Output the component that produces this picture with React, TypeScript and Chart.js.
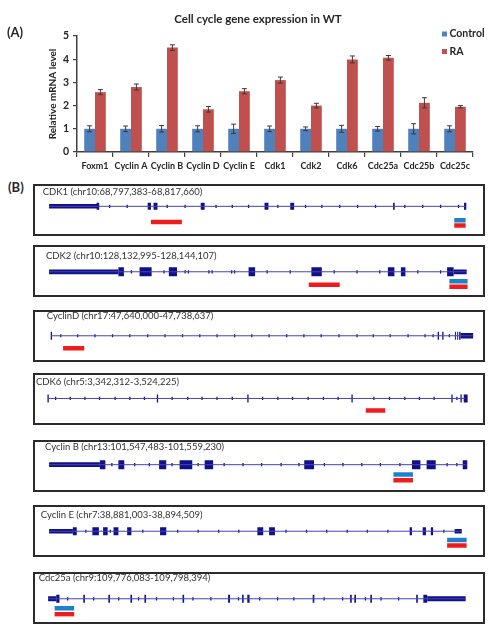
import React, { useEffect, useRef } from 'react';
import { Chart, registerables } from 'chart.js';

Chart.register(...registerables);

const FONT = 'Lato';
Chart.defaults.font.family = FONT;

// ---------------- Panel A data ----------------
const categories = ['Foxm1', 'Cyclin A', 'Cyclin B', 'Cyclin D', 'Cyclin E', 'Cdk1', 'Cdk2', 'Cdk6', 'Cdc25a', 'Cdc25b', 'Cdc25c'];
const controlValues = [1, 1, 1, 1, 1, 1, 1, 1, 1, 1, 1];
const controlErrors = [0.13, 0.12, 0.14, 0.13, 0.2, 0.12, 0.08, 0.15, 0.1, 0.22, 0.13];
const raValues = [2.58, 2.8, 4.5, 1.84, 2.62, 3.1, 2.0, 3.99, 4.06, 2.12, 1.95];
const raErrors = [0.11, 0.13, 0.12, 0.12, 0.11, 0.13, 0.1, 0.15, 0.1, 0.22, 0.05];
const yTickMax = 5;
const yTickStep = 1;

// ---------------- Panel B data (track positions along each gene window) ----------------
const cdk1Label = 'CDK1 (chr10:68,797,383-68,817,660)';
const cdk1Span = [42, 1322];
const cdk1Utr = [[42, 190]];
const cdk1Exons = [[188, 196], [345, 355], [363, 375], [508, 520], [704, 716], [783, 795], [1099, 1104], [1317, 1324]];
const cdk1Marks = [228, 282, 405, 460, 555, 605, 655, 745, 830, 880, 935, 990, 1045, 1135, 1190, 1245, 1300];
const cdk1Region = [[355, 450]];
const cdk1PrimerBlue = [[1287, 1322]];
const cdk1PrimerRed = [[1287, 1322]];

const cdk2Label = 'CDK2 (chr10:128,132,995-128,144,107)';
const cdk2Span = [42, 1325];
const cdk2Utr = [[42, 255], [1285, 1325]];
const cdk2Exons = [[255, 272], [320, 357], [410, 435], [655, 675], [848, 880], [1083, 1103], [1123, 1137], [1265, 1285]];
const cdk2Marks = [295, 395, 460, 470, 533, 543, 603, 612, 712, 783, 918, 988, 1058, 1175, 1245];
const cdk2Region = [[840, 935]];
const cdk2PrimerBlue = [[1272, 1328]];
const cdk2PrimerRed = [[1272, 1328]];

const cycDLabel = 'CyclinD (chr17:47,640,000-47,738,637)';
const cycDSpan = [48, 1345];
const cycDUtr = [[1306, 1345]];
const cycDExons = [[47, 51], [1236, 1240], [1250, 1254], [1289, 1292], [1296, 1299], [1302, 1306]];
const cycDMarks = [78, 130, 183, 237, 290, 345, 398, 452, 505, 558, 612, 665, 718, 772, 825, 878, 933, 988, 1038, 1090, 1145, 1197, 1222, 1272];
const cycDRegion = [[85, 150]];

const cdk6Label = 'CDK6 (chr5:3,342,312-3,524,225)';
const cdk6Span = [38, 1320];
const cdk6Exons = [[37, 41], [373, 377], [651, 655], [971, 975], [1278, 1282], [1306, 1310], [1316, 1328]];
const cdk6Marks = [62, 107, 152, 197, 245, 290, 335, 420, 468, 512, 558, 605, 698, 745, 790, 838, 885, 930, 1040, 1088, 1135, 1180, 1225, 1295];
const cdk6Region = [[1015, 1075]];

const cycBLabel = 'Cyclin B (chr13:101,547,483-101,559,230)';
const cycBSpan = [42, 1325];
const cycBUtr = [[42, 198]];
const cycBExons = [[198, 215], [255, 273], [380, 402], [443, 482], [520, 546], [826, 856], [1157, 1183], [1202, 1230], [1313, 1327]];
const cycBMarks = [235, 305, 350, 420, 500, 580, 638, 695, 755, 810, 888, 945, 1003, 1060, 1120, 1265, 1295];
const cycBPrimerBlue = [[1100, 1160]];
const cycBPrimerRed = [[1100, 1160]];

const cycELabel = 'Cyclin E (chr7:38,881,003-38,894,509)';
const cycESpan = [42, 1310];
const cycEUtr = [[42, 115], [1288, 1310]];
const cycEExons = [[115, 127], [175, 195], [208, 222], [240, 255], [282, 295], [383, 402], [682, 700], [718, 736], [1150, 1157], [1190, 1200], [1215, 1222]];
const cycEMarks = [155, 230, 330, 437, 500, 563, 625, 770, 833, 895, 958, 1020, 1083, 1255];
const cycEPrimerBlue = [[1265, 1325]];
const cycEPrimerRed = [[1265, 1325]];

const cdc25aLabel = 'Cdc25a (chr9:109,776,083-109,798,394)';
const cdc25aSpan = [39, 1322];
const cdc25aUtr = [[39, 64], [1204, 1322]];
const cdc25aExons = [[64, 74], [147, 152], [224, 229], [292, 297], [335, 340], [452, 457], [592, 598], [635, 640], [651, 658], [852, 857], [967, 972], [980, 985], [1029, 1034], [1170, 1175], [1192, 1204]];
const cdc25aMarks = [99, 179, 256, 317, 372, 424, 484, 539, 624, 689, 744, 794, 887, 944, 1014, 1062, 1116];
const cdc25aPrimerBlue = [[59, 119]];
const cdc25aPrimerRed = [[59, 119]];

// ---------------- styles ----------------
const CONTROL_COLOR = '#4f81bd';
const RA_COLOR = '#c0504d';
const AXIS_COLOR = '#404040';
const TEXT_COLOR = '#262626';
const EXON_COLOR = '#10108a';
const INTRON_COLOR = '#4545b0';
const PRIMER_BLUE = '#1f80cc';
const PRIMER_RED = '#ee1c1c';

type Track = {
  label: string; top: number; titleX: number; titleY: number;
  gene: number; blue: number; red: number; region: number; exonH: number; utrH: number;
  span: number[]; utr: number[][]; exons: number[][]; marks: number[];
  regionRanges: number[][]; primerBlue: number[][]; primerRed: number[][];
};

const tracks: Track[] = [
  { label: cdk1Label, top: 184, titleX: 7.7, titleY: 6, gene: 19.3, blue: 37.2, red: 43.8, region: 39.3, exonH: 7, utrH: 4.5,
    span: cdk1Span, utr: cdk1Utr, exons: cdk1Exons, marks: cdk1Marks, regionRanges: cdk1Region, primerBlue: cdk1PrimerBlue, primerRed: cdk1PrimerRed },
  { label: cdk2Label, top: 245, titleX: 11, titleY: 8.7, gene: 25, blue: 37, red: 44.3, region: 41.7, exonH: 9, utrH: 4.8,
    span: cdk2Span, utr: cdk2Utr, exons: cdk2Exons, marks: cdk2Marks, regionRanges: cdk2Region, primerBlue: cdk2PrimerBlue, primerRed: cdk2PrimerRed },
  { label: cycDLabel, top: 310, titleX: 11.7, titleY: 3.8, gene: 23.7, blue: 37, red: 44, region: 39.7, exonH: 8, utrH: 5.5,
    span: cycDSpan, utr: cycDUtr, exons: cycDExons, marks: cycDMarks, regionRanges: cycDRegion, primerBlue: [], primerRed: [] },
  { label: cdk6Label, top: 373, titleX: 1, titleY: 7, gene: 23.3, blue: 37, red: 44, region: 38.7, exonH: 8, utrH: 5,
    span: cdk6Span, utr: [], exons: cdk6Exons, marks: cdk6Marks, regionRanges: cdk6Region, primerBlue: [], primerRed: [] },
  { label: cycBLabel, top: 440, titleX: 10, titleY: 5, gene: 22.3, blue: 35, red: 42.3, region: 39, exonH: 9, utrH: 4.8,
    span: cycBSpan, utr: cycBUtr, exons: cycBExons, marks: cycBMarks, regionRanges: [], primerBlue: cycBPrimerBlue, primerRed: cycBPrimerRed },
  { label: cycELabel, top: 505, titleX: 5.7, titleY: 7.7, gene: 24.3, blue: 35.7, red: 42.7, region: 39, exonH: 8, utrH: 4.5,
    span: cycESpan, utr: cycEUtr, exons: cycEExons, marks: cycEMarks, regionRanges: [], primerBlue: cycEPrimerBlue, primerRed: cycEPrimerRed },
  { label: cdc25aLabel, top: 572, titleX: 3.7, titleY: 4, gene: 25, blue: 37.3, red: 44.7, region: 41, exonH: 8, utrH: 5,
    span: cdc25aSpan, utr: cdc25aUtr, exons: cdc25aExons, marks: cdc25aMarks, regionRanges: [], primerBlue: cdc25aPrimerBlue, primerRed: cdc25aPrimerRed },
];

// ---------------- plugins ----------------
const boxLabelPlugin = {
  id: 'boxLabel',
  afterDraw(chart: any, _args: any, opts: any) {
    if (!opts || !opts.text) return;
    const ctx = chart.ctx;
    ctx.save();
    ctx.font = opts.font;
    ctx.fillStyle = opts.color;
    ctx.textBaseline = 'middle';
    ctx.textAlign = 'left';
    ctx.fillText(opts.text, opts.x, opts.y);
    ctx.restore();
  },
};
Chart.register(boxLabelPlugin);

const errorBarPlugin = {
  id: 'errorBars',
  afterDatasetsDraw(chart: any) {
    const ctx = chart.ctx;
    const y = chart.scales.y;
    chart.data.datasets.forEach((ds: any, i: number) => {
      const errs = ds.errors;
      if (!errs) return;
      const meta = chart.getDatasetMeta(i);
      meta.data.forEach((el: any, j: number) => {
        const v = ds.data[j];
        const e = errs[j];
        const top = y.getPixelForValue(v + e);
        const bot = y.getPixelForValue(v - e);
        ctx.save();
        ctx.strokeStyle = '#3a3a3a';
        ctx.lineWidth = 1;
        ctx.beginPath();
        ctx.moveTo(el.x, top); ctx.lineTo(el.x, bot);
        ctx.moveTo(el.x - 2.5, top); ctx.lineTo(el.x + 2.5, top);
        ctx.moveTo(el.x - 2.5, bot); ctx.lineTo(el.x + 2.5, bot);
        ctx.stroke();
        ctx.restore();
      });
    });
  },
};

const cornerLegendPlugin = {
  id: 'cornerLegend',
  afterDraw(chart: any) {
    const { ctx, chartArea } = chart;
    chart.data.datasets.forEach((ds: any, i: number) => {
      const x = chartArea.right - 31;
      const y = chartArea.top - 2 + i * 17.5;
      ctx.save();
      ctx.fillStyle = ds.backgroundColor;
      ctx.fillRect(x, y - 2.5, 5, 5);
      ctx.fillStyle = TEXT_COLOR;
      ctx.font = `bold 10.5px ${FONT}`;
      ctx.textBaseline = 'middle';
      ctx.textAlign = 'left';
      ctx.fillText(ds.label, x + 7.5, y);
      ctx.restore();
    });
  },
};

// ---------------- Panel A ----------------
function BarPanel() {
  const ref = useRef<HTMLCanvasElement>(null);
  useEffect(() => {
    const chart = new Chart(ref.current as HTMLCanvasElement, {
      type: 'bar',
      data: {
        labels: categories,
        datasets: [
          { label: 'Control', data: controlValues, backgroundColor: CONTROL_COLOR, errors: controlErrors } as any,
          { label: 'RA', data: raValues, backgroundColor: RA_COLOR, errors: raErrors } as any,
        ],
      },
      options: {
        animation: false,
        responsive: false,
        events: [],
        layout: { padding: { left: 43, right: 28, top: 0, bottom: 0 } },
        datasets: { bar: { categoryPercentage: 0.6, barPercentage: 1 } },
        scales: {
          x: {
            grid: { display: true, drawOnChartArea: false, drawTicks: true, tickLength: 5, color: AXIS_COLOR, offset: true, lineWidth: 1.2 },
            border: { display: true, color: AXIS_COLOR, width: 1.5 },
            ticks: { font: { size: 9, weight: 'bold' }, color: TEXT_COLOR, padding: 4, autoSkip: false, maxRotation: 0 },
            afterFit: (s: any) => { s.height = 26; },
          },
          y: {
            min: 0,
            max: yTickMax,
            ticks: { stepSize: yTickStep, font: { size: 10.5, weight: 'bold' }, color: TEXT_COLOR, padding: 4 },
            grid: { display: true, drawOnChartArea: false, tickLength: 4, color: AXIS_COLOR, lineWidth: 1.2 },
            border: { display: true, color: AXIS_COLOR, width: 1.5 },
            title: { display: true, text: 'Relative mRNA level', font: { size: 10, weight: 'bold' }, color: TEXT_COLOR, padding: { top: 4, bottom: 0 } },
            afterFit: (s: any) => { s.width = 34; },
          },
        },
        plugins: {
          legend: { display: false },
          tooltip: { enabled: false },
          title: {
            display: true,
            text: 'Cell cycle gene expression in WT',
            font: { size: 11.5, weight: 'bold' },
            color: TEXT_COLOR,
            padding: { top: 12, bottom: 10.2 },
          },
        },
      } as any,
      plugins: [errorBarPlugin, cornerLegendPlugin],
    });
    return () => chart.destroy();
  }, []);
  return (
    <canvas ref={ref} width={501} height={178}
      style={{ position: 'absolute', left: 0, top: 0, width: 501, height: 178, display: 'block' }} />
  );
}

// ---------------- Panel B ----------------
const segs = (ranges: number[][], row: number) =>
  ranges.flatMap(([a, b]) => [{ x: a, y: row }, { x: b, y: row }, { x: null, y: null }]);

const lineDs = (data: any[], color: string, width: number) => ({
  data,
  showLine: true,
  borderColor: color,
  backgroundColor: color,
  borderWidth: width,
  borderCapStyle: 'butt',
  pointRadius: 0,
  pointHoverRadius: 0,
  spanGaps: false,
  tension: 0,
});

function TrackBox({ t }: { t: Track }) {
  const ref = useRef<HTMLCanvasElement>(null);
  useEffect(() => {
    const chart = new Chart(ref.current as HTMLCanvasElement, {
      type: 'scatter',
      data: {
        datasets: [
          lineDs(segs([t.span], t.gene), INTRON_COLOR, 1),
          {
            data: t.marks.map((m) => ({ x: m, y: t.gene })),
            showLine: false,
            pointStyle: 'line',
            pointRotation: 90,
            pointRadius: 1.6,
            pointBorderWidth: 1.3,
            pointBorderColor: EXON_COLOR,
            pointBackgroundColor: EXON_COLOR,
          },
          lineDs(segs(t.utr, t.gene), EXON_COLOR, t.utrH),
          lineDs(segs(t.exons, t.gene), EXON_COLOR, t.exonH),
          lineDs(segs(t.regionRanges, t.region), PRIMER_RED, 4.5),
          lineDs(segs(t.primerBlue, t.blue), PRIMER_BLUE, 4.5),
          lineDs(segs(t.primerRed, t.red), PRIMER_RED, 4.5),
        ] as any,
      },
      options: {
        animation: false,
        responsive: false,
        events: [],
        layout: { padding: 0 },
        scales: {
          x: { type: 'linear', min: 15, max: 1359, display: false },
          y: { type: 'linear', min: 0, max: 48, reverse: true, display: false },
        },
        plugins: {
          legend: { display: false },
          tooltip: { enabled: false },
          boxLabel: { text: t.label, x: t.titleX, y: t.titleY, font: `9.5px ${FONT}`, color: '#333' },
        },
      } as any,
    });
    return () => chart.destroy();
  }, [t]);
  return (
    <div style={{ position: 'absolute', left: 33, top: t.top, width: 452, height: 52, border: '2px solid #2b2b2b', boxSizing: 'border-box', background: '#fff' }}>
      <canvas ref={ref} width={448} height={48} style={{ display: 'block', width: 448, height: 48 }} />
    </div>
  );
}

export default function App() {
  return (
    <div style={{ position: 'relative', width: 501, height: 638, background: '#fff', overflow: 'hidden' }}>
      <style>{`body{margin:0;}`}</style>
      <BarPanel />
      <div style={{ position: 'absolute', left: 7, top: 24, font: `bold 13px ${FONT}`, color: TEXT_COLOR, lineHeight: '16px' }}>(A)</div>
      <div style={{ position: 'absolute', left: 8, top: 179, font: `bold 13px ${FONT}`, color: TEXT_COLOR, lineHeight: '16px' }}>(B)</div>
      {tracks.map((t) => (
        <TrackBox key={t.label} t={t} />
      ))}
    </div>
  );
}
